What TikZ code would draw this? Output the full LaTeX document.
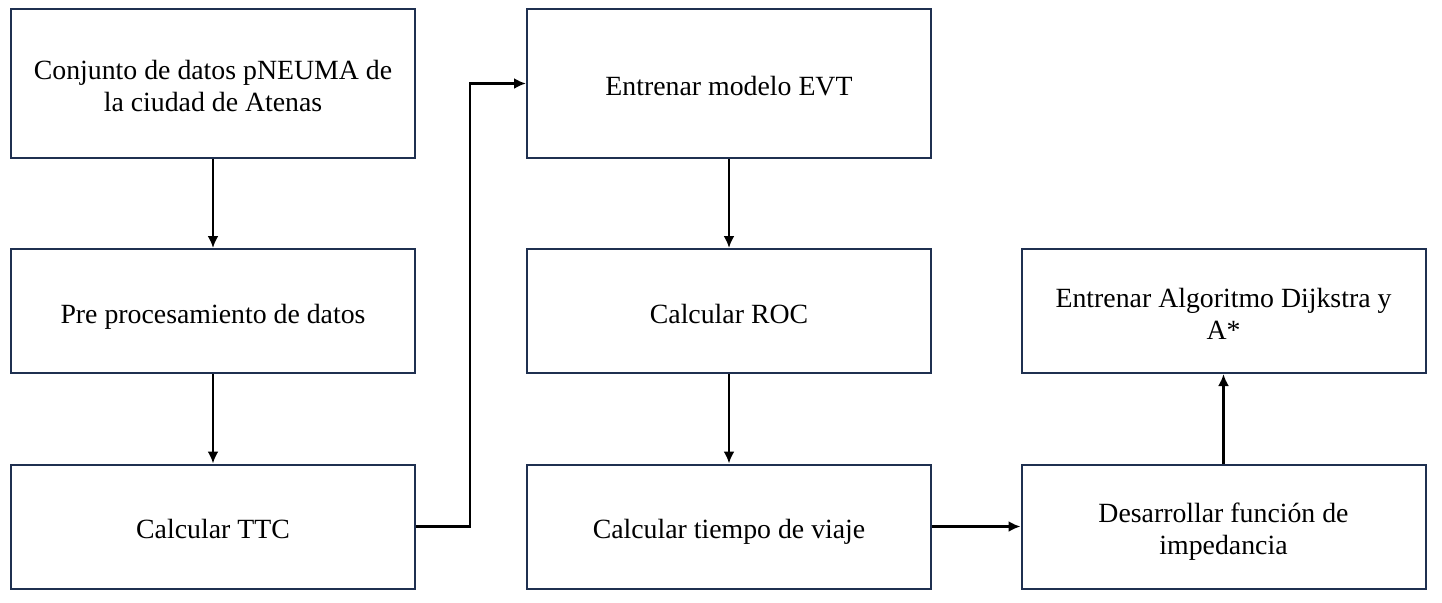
\documentclass[tikz,border=0pt]{standalone}
\usepackage{fontspec}
\setmainfont{Liberation Serif}
\usetikzlibrary{arrows.meta}
\definecolor{boxline}{HTML}{1F3050}
\newcommand\topstrut{\rule[-4.8pt]{0pt}{22pt}}
\tikzset{
  stage/.style={draw=boxline, line width=1pt, fill=white, align=center,
    minimum width=202pt, minimum height=62pt, inner sep=0pt,
    font=\fontsize{13.9}{16}\selectfont,
    execute at begin node=\topstrut, execute at end node=\strut},
  tall/.style={minimum height=74.5pt},
  flow/.style={draw=black, line width=1.4pt, -{Latex[length=6pt,width=5.5pt]}}
}

\begin{document}
\begin{tikzpicture}[x=0.5pt, y=-0.5pt]
\useasboundingbox (0,0) rectangle (1442,602);
% Left column
  \node[stage, tall] (data) at (213,83.5) {\topstrut Conjunto de datos pNEUMA de\\la ciudad de Atenas};
  \node[stage] (prep) at (213,311) {Pre procesamiento de datos};
  \node[stage] (ttc) at (213,526.5) {Calcular TTC};
% Middle column
  \node[stage, tall] (evt) at (729,83.5) {Entrenar modelo EVT};
  \node[stage] (roc) at (729,311) {Calcular ROC};
  \node[stage] (viaje) at (729,526.5) {Calcular tiempo de viaje};
% Right column
  \node[stage] (dijkstra) at (1223.5,311) {\topstrut Entrenar Algoritmo Dijkstra y\\A*};
  \node[stage] (imped) at (1223.5,526.5) {\topstrut Desarrollar función de\\impedancia};
% Connectors
  \draw[flow] (data) -- (prep);
  \draw[flow] (prep) -- (ttc);
  \draw[flow] (ttc.east) -- (470,526.5) |- (evt.west);
  \draw[flow] (evt) -- (roc);
  \draw[flow] (roc) -- (viaje);
  \draw[flow] (viaje) -- (imped);
  \draw[flow] (imped) -- (dijkstra);
\end{tikzpicture}
\end{document}
